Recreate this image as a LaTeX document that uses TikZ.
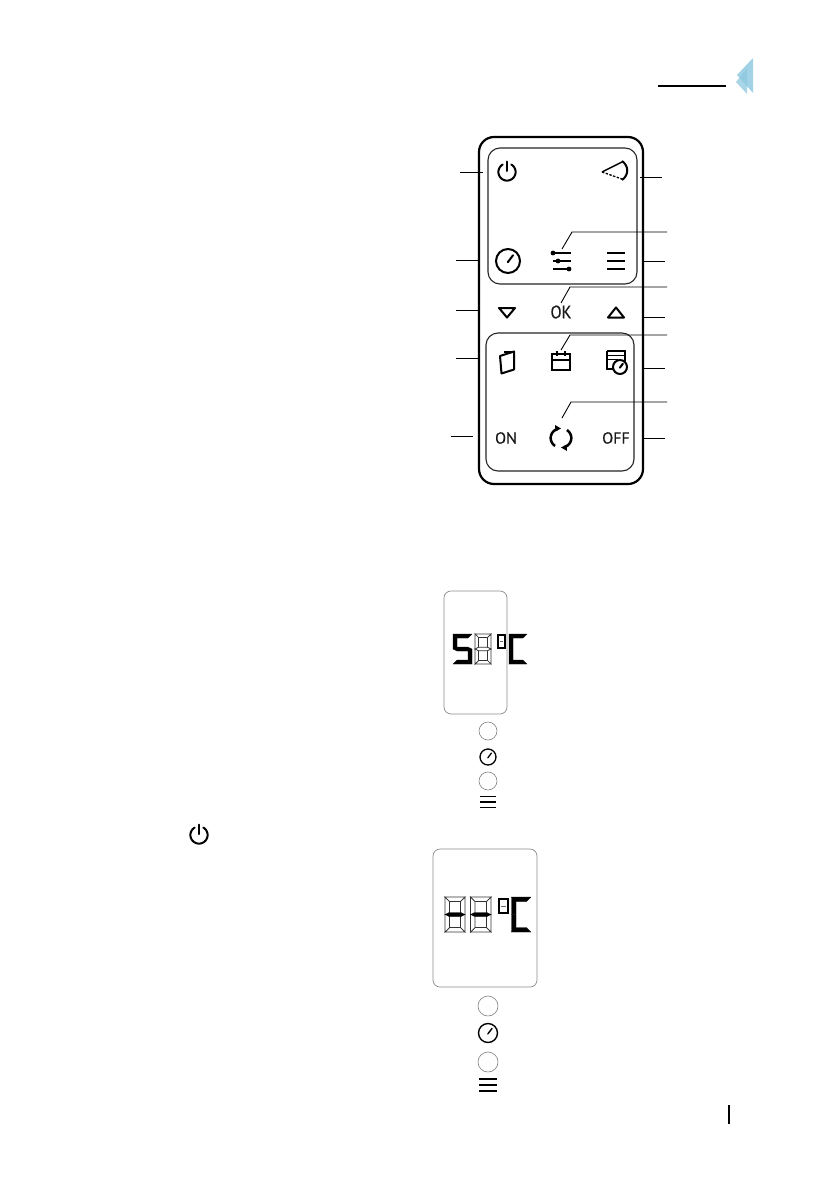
\documentclass[tikz,border=0pt]{standalone}
\usepackage{fontspec}
\setmainfont{PT Sans}
\newfontfamily\keyfont[FakeBold=0.4]{PT Sans}
\newcommand\Lsetup[5]{\def\Lx{#1}\def\Ly{#2}\def\Lw{#3}\def\Lh{#4}\def\Lt{#5}}
\def\lcda{(\Lx,\Ly)--(\Lx+\Lw,\Ly)--(\Lx+\Lw-\Lt,\Ly+\Lt)--(\Lx+\Lt,\Ly+\Lt)--cycle}
\def\lcdb{(\Lx+\Lw,\Ly)--(\Lx+\Lw,\Ly+.5*\Lh)--(\Lx+\Lw-\Lt,\Ly+.5*\Lh)--(\Lx+\Lw-\Lt,\Ly+\Lt)--cycle}
\def\lcdc{(\Lx+\Lw,\Ly+.5*\Lh)--(\Lx+\Lw,\Ly+\Lh)--(\Lx+\Lw-\Lt,\Ly+\Lh-\Lt)--(\Lx+\Lw-\Lt,\Ly+.5*\Lh)--cycle}
\def\lcdd{(\Lx,\Ly+\Lh)--(\Lx+\Lw,\Ly+\Lh)--(\Lx+\Lw-\Lt,\Ly+\Lh-\Lt)--(\Lx+\Lt,\Ly+\Lh-\Lt)--cycle}
\def\lcde{(\Lx,\Ly+.5*\Lh)--(\Lx,\Ly+\Lh)--(\Lx+\Lt,\Ly+\Lh-\Lt)--(\Lx+\Lt,\Ly+.5*\Lh)--cycle}
\def\lcdf{(\Lx,\Ly)--(\Lx,\Ly+.5*\Lh)--(\Lx+\Lt,\Ly+.5*\Lh)--(\Lx+\Lt,\Ly+\Lt)--cycle}
\def\lcdg{(\Lx,\Ly+.5*\Lh)--(\Lx+\Lt,\Ly+.5*\Lh-.5*\Lt)--(\Lx+\Lw-\Lt,\Ly+.5*\Lh-.5*\Lt)--(\Lx+\Lw,\Ly+.5*\Lh)--(\Lx+\Lw-\Lt,\Ly+.5*\Lh+.5*\Lt)--(\Lx+\Lt,\Ly+.5*\Lh+.5*\Lt)--cycle}
\newcommand\lcdsegs[7]{\Lsetup{#1}{#2}{#3}{#4}{#5}%
  \foreach \s in {#7}{\expandafter\let\expandafter\lcdcur\csname lcd\s\endcsname \path[#6] \lcdcur;}}
\newcommand\clockicon[4]{% x y r lw
  \draw[line width=#4,fill=white] (#1,#2) circle (#3);
  \draw[line width=#4,line cap=round] (#1-.02*#3,#2+.1*#3) -- (#1+.42*#3,#2-.48*#3);}
\newcommand\menuicon[4]{% x1 x2 ymid gap
  \draw[line width=1.8pt] (#1,#3-#4)--(#2,#3-#4) (#1,#3)--(#2,#3) (#1,#3+#4)--(#2,#3+#4);}
\newcommand\powericon[3]{% x y lw
  \draw[line width=#3,line cap=round] plot[smooth,samples=41,domain=-60:240] ({#1+8.6*cos(\x)},{#2+8.6*sin(\x)});
  \draw[line width=#3,line cap=round] (#1,#2-10.5)--(#1,#2-1);}
\tikzset{
  x=1pt,y=-1pt,
  outerbox/.style={draw=black,line width=2.2pt,rounded corners=15pt},
  innerbox/.style={draw=black!85,line width=1.1pt,rounded corners=12pt},
  lcdbox/.style={draw=black!45,line width=.7pt,rounded corners=7pt,fill=white},
  leader/.style={draw=black,line width=.9pt},
  lit/.style={fill=black,draw=black,line width=.2pt},
  unlit/.style={draw=black!80,line width=.7pt,fill=white},
  blank/.style={draw=black!50,line width=.6pt,fill=white},
  icon/.style={line width=2pt},
  keytext/.style={inner sep=0pt,text=black!90},
  keysm/.style={keytext,font=\keyfont\fontsize{16}{16}\selectfont},
  keylg/.style={keytext,font=\keyfont\fontsize{18}{18}\selectfont,xscale=.9},
}
\begin{document}
\begin{tikzpicture}
\useasboundingbox (0,0) rectangle (839,1191);
\fill[white] (0,0) rectangle (839,1191);
% header
\coordinate (hl) at (658,86); \coordinate (hr) at (726,86);
\draw[line width=1.7pt] (hl)--(hr);
\fill[cyan!55!teal!55!white,opacity=.75] (753,58)--(753,93)--(737,75)--cycle;
\fill[cyan!55!teal!50!white,opacity=.75] (736,82)--(747,68)--(747,94)--cycle;
% remote
\draw[outerbox] (479,137) rectangle (643,484);
\draw[innerbox] (488,148) rectangle (637,284);
\draw[innerbox] (486,333) rectangle (634,471);
% left leaders
\foreach \n/\xa/\xb/\yy in {a/460/483/172,b/456/478/260,c/456/478/310,d/456/478/358,e/451/473/436}{
  \coordinate (L\n1) at (\xa,\yy); \coordinate (L\n2) at (\xb,\yy);
  \draw[leader] (L\n1)--(L\n2);}
% right leaders
\foreach \n/\xa/\xb/\yy in {a/640/662/177,b/643/665/261,c/643/665/317,d/643/665/368,e/643/665/438}{
  \coordinate (R\n1) at (\xa,\yy); \coordinate (R\n2) at (\xb,\yy);
  \draw[leader] (R\n1)--(R\n2);}
% elbow leaders
\foreach \n/\xa/\ya/\xb/\yb in {a/562/249/572/232,b/561/303/570/287,c/561/350/570/335,d/562/418/571/402}{
  \coordinate (E\n1) at (\xa,\ya); \coordinate (E\n2) at (\xb,\yb); \coordinate (E\n3) at (667,\yb);
  \draw[leader] (E\n1)--(E\n2)--(E\n3);}
% icons upper panel
\powericon{507}{172}{2pt}
\draw[line width=1.4pt] (622,162)--(602,172);
\draw[line width=1.3pt,dash pattern=on 2.4pt off 1.5pt] (602,172)--(622,179);
\draw[line width=2pt] (622,161) .. controls (629,166) and (629,175) .. (622,180);
\clockicon{508}{261}{12}{2pt}
\draw[line width=1.5pt] (553,253)--(571,253) (553,261)--(571,261) (553,269)--(571,269);
\fill (553,253) circle (2.4) (558,261) circle (2.4) (569,269) circle (2.4);
\menuicon{607}{625}{261}{8}
% arrow row
\draw[icon,line join=round] (499,308)--(515,308)--(507,317.5)--cycle;
\draw[icon,line join=round] (608,317.5)--(624,317.5)--(616,307.5)--cycle;
\node[keylg] (ok) at (561,312) {OK};
% icons lower panel
\draw[icon,line join=round] (500,356)--(514,351.5)--(514,369.5)--(501.5,373.5)--cycle;
\draw[line width=1.3pt] (504,352)--(514,352);
\draw[icon] (552,354)--(570,354)--(570,370)--(552,370)--cycle;
\draw[line width=1.5pt] (552,360)--(570,360);
\draw[line width=1.1pt] (557,351)--(557,356) (565,351)--(565,356);
\draw[icon] (607,351)--(625,351)--(625,362) (607,351)--(607,369)--(613,369);
\draw[line width=1.7pt] (608,355.5)--(624,355.5) (608,359.5)--(618,359.5);
\clockicon{620}{367}{7}{2pt}
\node[keysm] (on) at (506,438) {ON};
\node[keysm] (off) at (616,438) {OFF};
% cycle
\draw[line width=2.5pt] plot[smooth,samples=25,domain=125:250] ({561+10.3*cos(\x)},{438+9.7*sin(\x)});
\draw[line width=2.5pt] plot[smooth,samples=25,domain=-55:70] ({561+10.3*cos(\x)},{438+9.7*sin(\x)});
\fill (555,425)--(561,428.5)--(555.5,431.5)--cycle;
\fill (567,451)--(561,447.5)--(566.5,444.5)--cycle;
% standalone power symbol
\powericon{199}{835}{2pt}
% display 1
\draw[lcdbox] (444,591) rectangle (507,714);
\lcdsegs{475}{634}{16}{30}{3.5}{unlit}{a,b,c,d,e,f,g}
\lcdsegs{453}{634}{19}{30}{4}{lit}{a,f,g,c,d}
\lcdsegs{509}{634}{18}{30}{4}{lit}{a,f,e,d}
\draw[line width=1.2pt] (498,635) rectangle (505,648);
\draw[black!60,line width=.5pt] (500,641.5)--(503,641.5);
\draw[blank] (488,731) circle (9);
\clockicon{488}{757}{8}{1.3pt}
\draw[blank] (488,781) circle (9);
\menuicon{480}{496}{802}{5.5}
% display 2
\draw[lcdbox] (433,849) rectangle (537,987);
\lcdsegs{445}{897}{20}{35}{4.5}{unlit}{a,b,c,d,e,f}
\lcdsegs{470.5}{897}{20.5}{35}{4.5}{unlit}{a,b,c,d,e,f}
\lcdsegs{445}{897}{20}{35}{4}{lit}{g}
\lcdsegs{470.5}{897}{20.5}{35}{4}{lit}{g}
\draw[line width=1.1pt] (499,899) rectangle (508,913);
\draw[black!60,line width=.5pt] (501,906)--(506,906);
\lcdsegs{511.5}{897}{19.5}{35}{4.5}{lit}{a,f,e,d}
\draw[blank] (488,1006) circle (10);
\clockicon{488}{1033}{9.5}{1.4pt}
\draw[blank] (488,1062) circle (10);
\menuicon{479}{497}{1085}{6}
% page rule
\coordinate (pa) at (729,1105); \coordinate (pb) at (729,1124);
\draw[line width=1.4pt] (pa)--(pb);
\end{tikzpicture}
\end{document}
